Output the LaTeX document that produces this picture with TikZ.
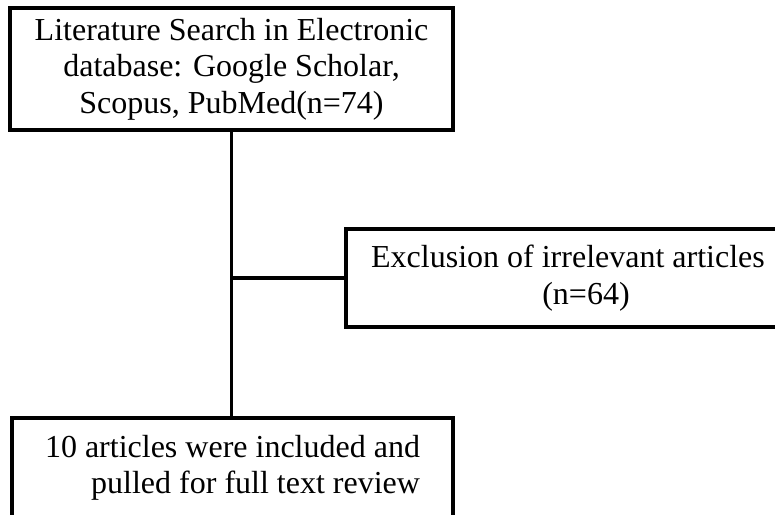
\documentclass[tikz,border=0pt]{standalone}
\usepackage{fontspec}
\setmainfont{Liberation Serif}
\usetikzlibrary{calc, positioning}

\begin{document}
\begin{tikzpicture}[x=1pt, y=-1pt,
  flowbox/.style={draw, rectangle, line width=3.2pt, align=center, inner sep=0pt,
    font=\fontsize{32}{36.5}\selectfont},
  link/.style={line width=3.4pt}]
\clip (0,0) rectangle (775,514);

\node[flowbox, minimum width=443pt, minimum height=122pt] (search) at (231.5,69)
  {Literature Search in Electronic\\ database: Google Scholar,\\ Scopus, PubMed(n=74)};
\node[flowbox, minimum width=444pt, minimum height=98pt] (exclusion) at (568,278)
  {Exclusion of irrelevant articles\\ \hspace*{36pt}(n=64)};
\node[flowbox, align=right, minimum width=441pt, minimum height=100pt] (included) at (232.5,468)
  {10 articles were included and\\ pulled for full text review};

% trunk and side branch
\draw[link] (search.south) -- (search.south |- included.north);
\coordinate (branch) at (search.south |- exclusion.west);
\draw[link] (branch) -- (exclusion.west);
\end{tikzpicture}
\end{document}
